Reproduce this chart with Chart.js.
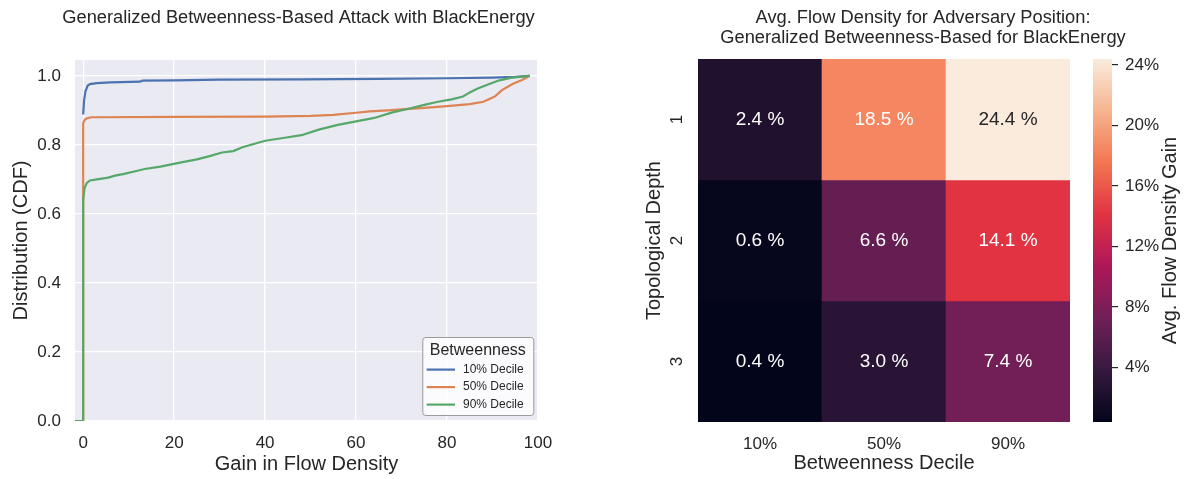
<!DOCTYPE html>
<html>
<head>
<meta charset="utf-8">
<script src="https://cdn.jsdelivr.net/npm/chart.js@4.4.0/dist/chart.umd.min.js"></script>
<style>
  html, body { margin: 0; padding: 0; background: #fff; overflow: hidden; width: 1187px; height: 479px; }
  canvas { position: absolute; top: 0; }
  #cdfChart { left: 0; }
  #heatChart { left: 640px; }
  #cbarChart { left: 1060px; }
</style>
</head>
<body>
<canvas id="cdfChart" width="597" height="479"></canvas>
<canvas id="heatChart" width="566" height="479"></canvas>
<canvas id="cbarChart" width="127" height="479"></canvas>
<script>
// CDF curves (gain in flow density -> cumulative share)
const gain10 = [0, 0.2, 0.5, 1.0, 1.5, 3.0, 6, 12.5, 13, 20, 30, 48, 65, 80, 90, 95, 98.2];
const cdf10 = [0.888, 0.93, 0.955, 0.972, 0.976, 0.979, 0.981, 0.983, 0.986, 0.987, 0.989, 0.990, 0.991, 0.993, 0.995, 0.997, 1.0];

const gain50 = [0, 0, 0.3, 0.8, 1.9, 3, 20, 40, 50, 55, 60, 63, 67, 70, 75, 80, 85, 88, 90.5, 92, 94.5, 96.5, 98.2];
const cdf50 = [0, 0.862, 0.872, 0.877, 0.880, 0.880, 0.881, 0.882, 0.884, 0.887, 0.893, 0.897, 0.900, 0.903, 0.907, 0.912, 0.918, 0.925, 0.940, 0.958, 0.977, 0.988, 1.0];

const gain90 = [-1.8, 0, 0, 0.3, 0.8, 1.5, 3, 5.5, 7, 9, 11, 13.5, 17, 21, 25, 28, 30.5, 33, 35, 40, 45, 48, 52, 56, 60, 64, 68, 72, 75, 78, 81, 83.5, 85, 86.5, 89, 91.5, 94, 96, 98.2];
const cdf90 = [0, 0, 0.64, 0.675, 0.690, 0.697, 0.700, 0.705, 0.711, 0.716, 0.722, 0.730, 0.737, 0.748, 0.758, 0.768, 0.778, 0.782, 0.793, 0.812, 0.822, 0.828, 0.845, 0.858, 0.868, 0.878, 0.894, 0.906, 0.916, 0.925, 0.932, 0.940, 0.952, 0.962, 0.975, 0.987, 0.994, 0.997, 1.0];

const seriesLabels = ["10% Decile", "50% Decile", "90% Decile"];
const xTicks = [0, 20, 40, 60, 80, 100];
const yTicks = [0, 0.2, 0.4, 0.6, 0.8, 1.0];

// Heatmap: rows = topological depth, columns = betweenness decile
const deciles = ["10%", "50%", "90%"];
const depths = ["1", "2", "3"];
const flowGain = [
  [2.4, 18.5, 24.4],
  [0.6, 6.6, 14.1],
  [0.4, 3.0, 7.4]
];
const cbarTicks = [4, 8, 12, 16, 20, 24];

const textColor = "#262626";
const fontFamily = "'Liberation Sans', Arial, sans-serif";
Chart.defaults.font.family = fontFamily;
Chart.defaults.color = textColor;

// seaborn "rocket" colormap, sampled
const rocketStops = [
  [0, [3, 5, 26]],
  [1 / 7, [53, 25, 62]],
  [2 / 7, [112, 31, 87]],
  [3 / 7, [173, 23, 89]],
  [4 / 7, [225, 51, 66]],
  [5 / 7, [243, 118, 81]],
  [6 / 7, [246, 180, 143]],
  [1, [250, 235, 221]]
];
function rocket(t) {
  t = Math.max(0, Math.min(1, t));
  for (let i = 1; i < rocketStops.length; i++) {
    const [t1, c1] = rocketStops[i];
    const [t0, c0] = rocketStops[i - 1];
    if (t <= t1) {
      const f = (t - t0) / (t1 - t0);
      return c0.map((v, k) => Math.round(v + (c1[k] - v) * f));
    }
  }
  return rocketStops[rocketStops.length - 1][1];
}
function luminance(rgb) {
  const lin = rgb.map(v => {
    v /= 255;
    return v <= 0.03928 ? v / 12.92 : Math.pow((v + 0.055) / 1.055, 2.4);
  });
  return 0.2126 * lin[0] + 0.7152 * lin[1] + 0.0722 * lin[2];
}

const allGain = flowGain.flat();
const cbarMin = Math.min(...allGain);
const cbarMax = Math.max(...allGain);
const norm = v => (v - cbarMin) / (cbarMax - cbarMin);

// empty right-hand axis, only reserves room so the title centres like the original
const spacerAxis = w => ({
  position: "right",
  afterFit: s => { s.width = w; },
  grid: { display: false, drawTicks: false },
  border: { display: false },
  ticks: { display: false }
});

// ---------- left: CDF line chart ----------
const toPts = (xs, ys) => xs.map((x, i) => ({ x: x, y: ys[i] }));
const cdfColors = ["#4c72b0", "#dd8452", "#55a868"];

const plotBg = {
  id: "plotBg",
  beforeDraw(chart) {
    const a = chart.chartArea;
    chart.ctx.save();
    chart.ctx.fillStyle = "#eaeaf2";
    chart.ctx.fillRect(a.left, a.top, a.right - a.left, a.bottom - a.top);
    chart.ctx.restore();
  }
};

const cdfLegend = {
  id: "cdfLegend",
  afterDraw(chart) {
    const { ctx, chartArea } = chart;
    const w = 111, h = 78;
    const x0 = chartArea.right - 4.7 - w;
    const y0 = chartArea.bottom - 6 - h;
    ctx.save();
    ctx.beginPath();
    ctx.roundRect(x0 + 0.5, y0 + 0.5, w, h, 3);
    ctx.fillStyle = "rgba(255,255,255,0.8)";
    ctx.fill();
    ctx.strokeStyle = "#9a9a9a";
    ctx.lineWidth = 1;
    ctx.stroke();
    ctx.fillStyle = textColor;
    ctx.textAlign = "center";
    ctx.textBaseline = "middle";
    ctx.font = "16px " + fontFamily;
    ctx.fillText("Betweenness", x0 + w / 2, y0 + 14);
    ctx.font = "12px " + fontFamily;
    ctx.textAlign = "left";
    seriesLabels.forEach((lab, i) => {
      const y = y0 + 32.6 + i * 17.5;
      ctx.strokeStyle = cdfColors[i];
      ctx.lineWidth = 2.2;
      ctx.beginPath();
      ctx.moveTo(x0 + 4.4, y);
      ctx.lineTo(x0 + 32.7, y);
      ctx.stroke();
      ctx.fillText(lab, x0 + 40.7, y);
    });
    ctx.restore();
  }
};

new Chart(document.getElementById("cdfChart"), {
  type: "line",
  data: {
    datasets: [
      { label: seriesLabels[0], data: toPts(gain10, cdf10), borderColor: cdfColors[0], order: 2 },
      { label: seriesLabels[1], data: toPts(gain50, cdf50), borderColor: cdfColors[1], order: 1 },
      { label: seriesLabels[2], data: toPts(gain90, cdf90), borderColor: cdfColors[2], order: 0 }
    ]
  },
  options: {
    responsive: false,
    animation: false,
    layout: { padding: 0 },
    elements: { line: { borderWidth: 2.2, tension: 0 }, point: { radius: 0 } },
    plugins: {
      legend: { display: false },
      tooltip: { enabled: false },
      title: {
        display: true,
        text: "Generalized Betweenness-Based Attack with BlackEnergy",
        color: textColor,
        font: { size: 18.3, weight: "normal" },
        padding: { top: 6.5, bottom: 31.5 }
      }
    },
    scales: {
      x: {
        type: "linear",
        min: -1.8,
        max: 100,
        afterBuildTicks: s => { s.ticks = xTicks.map(v => ({ value: v })); },
        afterFit: s => { s.height = 58; },
        grid: { color: "#ffffff", lineWidth: 1.3, drawTicks: false },
        border: { display: false },
        ticks: { color: textColor, font: { size: 17 }, padding: 12 },
        title: { display: true, text: "Gain in Flow Density", color: textColor, font: { size: 20 }, padding: { top: 0, bottom: 3 } }
      },
      y: {
        type: "linear",
        min: 0,
        max: 1.046,
        afterBuildTicks: s => { s.ticks = yTicks.map(v => ({ value: v })); },
        afterFit: s => { s.width = 75; },
        grid: { color: "#ffffff", lineWidth: 1.3, drawTicks: false },
        border: { display: false },
        ticks: { color: textColor, font: { size: 17 }, padding: 14, callback: v => v.toFixed(1) },
        title: { display: true, text: "Distribution (CDF)", color: textColor, font: { size: 20 }, padding: { top: 9, bottom: 0 } }
      },
      spacer: spacerAxis(59)
    }
  },
  plugins: [plotBg, cdfLegend]
});

// ---------- right: heatmap ----------
const heatLabels = {
  id: "heatLabels",
  afterDatasetsDraw(chart) {
    const ctx = chart.ctx;
    ctx.save();
    ctx.textAlign = "center";
    ctx.textBaseline = "middle";
    ctx.font = "19px " + fontFamily;
    chart.data.datasets.forEach((ds, r) => {
      chart.getDatasetMeta(r).data.forEach((bar, c) => {
        const p = bar.getProps(["x", "y", "base"], true);
        const v = flowGain[r][c];
        ctx.fillStyle = luminance(rocket(norm(v))) > 0.408 ? textColor : "#ffffff";
        ctx.fillText(v.toFixed(1) + " %", p.x, (p.y + p.base) / 2);
      });
    });
    // rotated depth tick labels
    const ys = chart.scales.y;
    ctx.fillStyle = textColor;
    ctx.font = "17px " + fontFamily;
    depths.forEach((d, r) => {
      ctx.save();
      ctx.translate(ys.right - 21, ys.getPixelForValue(r + 0.5));
      ctx.rotate(-Math.PI / 2);
      ctx.fillText(d, 0, 0);
      ctx.restore();
    });
    ctx.restore();
  }
};

new Chart(document.getElementById("heatChart"), {
  type: "bar",
  data: {
    labels: deciles,
    datasets: depths.map((d, r) => ({
      label: d,
      data: deciles.map(() => [r, r + 1]),
      backgroundColor: flowGain[r].map(v => "rgb(" + rocket(norm(v)).join(",") + ")"),
      grouped: false,
      barPercentage: 1,
      categoryPercentage: 1,
      borderWidth: 0,
      borderSkipped: false
    }))
  },
  options: {
    responsive: false,
    animation: false,
    layout: { padding: 0 },
    plugins: {
      legend: { display: false },
      tooltip: { enabled: false },
      title: {
        display: true,
        text: ["Avg. Flow Density for Adversary Position:", "Generalized Betweenness-Based for BlackEnergy"],
        color: textColor,
        font: { size: 18.3, weight: "normal", lineHeight: 1.1 },
        padding: { top: 7.5, bottom: 11.3 }
      }
    },
    scales: {
      x: {
        afterFit: s => { s.height = 57; },
        grid: { display: false, drawTicks: false },
        border: { display: false },
        ticks: { color: textColor, font: { size: 17 }, padding: 12 },
        title: { display: true, text: "Betweenness Decile", color: textColor, font: { size: 20 }, padding: { top: 0, bottom: 4 } }
      },
      y: {
        type: "linear",
        min: 0,
        max: 3,
        reverse: true,
        afterBuildTicks: s => { s.ticks = depths.map((d, r) => ({ value: r + 0.5 })); },
        afterFit: s => { s.width = 58; },
        grid: { display: false, drawTicks: false },
        border: { display: false },
        ticks: { display: false },
        title: { display: true, text: "Topological Depth", color: textColor, font: { size: 20 }, padding: { top: 2, bottom: 0 } }
      },
      spacer: spacerAxis(136)
    }
  },
  plugins: [heatLabels]
});

// ---------- colorbar ----------
const cbarTitle = {
  id: "cbarTitle",
  afterDraw(chart) {
    const { ctx, chartArea } = chart;
    ctx.save();
    ctx.fillStyle = textColor;
    ctx.font = "20px " + fontFamily;
    ctx.textAlign = "center";
    ctx.textBaseline = "middle";
    ctx.translate(110, (chartArea.top + chartArea.bottom) / 2);
    ctx.rotate(-Math.PI / 2);
    ctx.fillText("Avg. Flow Density Gain", 0, 0);
    ctx.restore();
  }
};

new Chart(document.getElementById("cbarChart"), {
  type: "bar",
  data: {
    labels: [""],
    datasets: [{
      data: [[cbarMin, cbarMax]],
      backgroundColor: c => {
        const chart = c.chart;
        const ys = chart.scales.y;
        if (!chart.chartArea || !ys) return "rgb(" + rocket(0.5).join(",") + ")";
        const g = chart.ctx.createLinearGradient(0, ys.getPixelForValue(cbarMin), 0, ys.getPixelForValue(cbarMax));
        rocketStops.forEach(([t, rgb]) => g.addColorStop(t, "rgb(" + rgb.join(",") + ")"));
        return g;
      },
      barPercentage: 1,
      categoryPercentage: 1,
      borderWidth: 0,
      borderSkipped: false
    }]
  },
  options: {
    responsive: false,
    animation: false,
    layout: { padding: { left: 33, right: 0, top: 59, bottom: 57 } },
    plugins: { legend: { display: false }, tooltip: { enabled: false } },
    scales: {
      x: { display: false },
      y: {
        position: "right",
        min: cbarMin,
        max: cbarMax,
        afterBuildTicks: s => { s.ticks = cbarTicks.map(v => ({ value: v })); },
        afterFit: s => { s.width = 75; },
        grid: { drawOnChartArea: false, drawTicks: true, tickLength: 6, tickColor: textColor, lineWidth: 1.2 },
        border: { display: false },
        ticks: { color: textColor, font: { size: 17 }, padding: 7, callback: v => v + "%" }
      }
    }
  },
  plugins: [cbarTitle]
});
</script>
</body>
</html>
